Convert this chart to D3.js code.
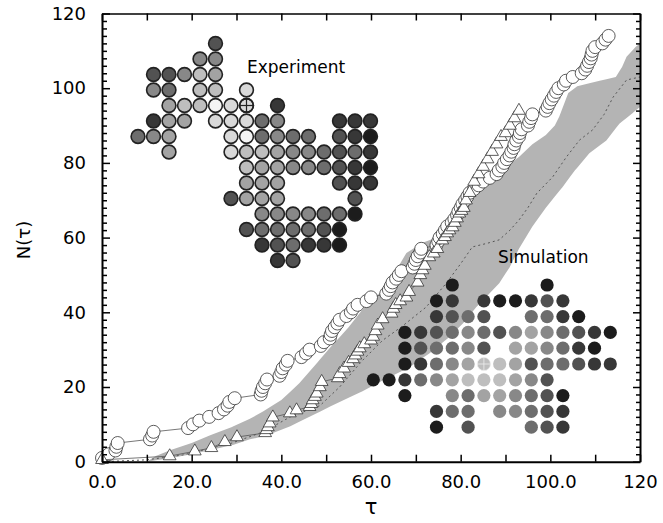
<!DOCTYPE html>
<html>
<head>
<meta charset="utf-8">
<script src="https://cdn.jsdelivr.net/npm/d3@7"></script>
<style>
  body { margin: 0; background: #fff; }
  text { font-family: "DejaVu Sans", sans-serif; }
</style>
</head>
<body>
<svg id="chart"></svg>
<script>
// measured trajectory (circles), tau vs N(tau)
const experiment = [
  [0,1],[1.5,2],[3,3],[3.2,4],[3.5,5],[10.7,6],[11.2,7],[11.5,8],[19.2,9],[20.3,10],
  [21.7,11],[23.9,12],[26,13],[27.2,14],[28,15],[28.4,16],[29.6,17],[35.4,18],[35.6,19],[35.9,20],
  [36.4,21],[36.8,22],[39.6,23],[40,24],[40.3,25],[41,26],[41.4,27],[44.5,28],[45.5,29],[46.3,30],
  [48.8,31],[49.5,32],[50.8,33],[51,34],[51.3,35],[51.9,36],[52.5,37],[53,38],[54.5,39],[55.5,40],
  [56,41],[57,42],[59,43],[60,44],[63.4,45],[64,46],[64.4,47],[64.8,48],[65.6,49],[66.2,50],
  [66.8,51],[69.3,52],[69.7,53],[70,54],[70.4,55],[71,56],[71.2,57],[74.6,58],[75,59],[75.3,60],
  [76,61],[76.5,62],[77,63],[78,64],[78.6,65],[79.2,66],[79.5,67],[80,68],[80.4,69],[81,70],
  [81.5,71],[82,72],[83,73],[84,74],[85,75],[86.5,76],[88,77],[88.5,78],[89.3,79],[89.7,80],
  [90.3,81],[90.9,82],[91.3,83],[91.8,84],[92,85],[92.4,86],[93,87],[93.2,88],[93.6,89],[95,90],
  [95.3,91],[95.7,92],[96,93],[99,94],[99.4,95],[99.8,96],[100.3,97],[100.8,98],[101.3,99],[101.8,100],
  [103,101],[103.5,102],[105,103],[107,104],[107.8,105],[108.2,106],[108.6,107],[109,108],[109.2,109],[109.4,110],
  [110,111],[111.6,112],[112.3,113],[113,114]
]

// second trajectory (triangles)
const triangles = [
  [0,0.5],[15.1,1.5],[20.7,2.8],[24.4,3.7],[27.4,5.3],[30.1,6.6],[36.4,7.7],[36.7,8.5],[37,9.3],[37.4,10.3],
  [38.1,11.9],[41.9,13],[43.4,13.8],[46.3,14.7],[46.7,15.5],[47,16.5],[47.5,17.4],[47.9,18.3],[48.6,20],[49,21.4],
  [52.6,22.4],[53,23.5],[54,25],[55,26.5],[56,27.5],[56.5,28.5],[57,29.5],[57.5,30.4],[58.5,31.5],[60,32.5],
  [60.5,33.5],[61,35],[61.5,36.5],[62.6,38.2],[64.6,39.7],[65,41],[65.5,42],[66.5,43],[67.9,44],[68.5,45.5],
  [70.4,48],[71,50],[71.5,51.3],[72,52.5],[73,54.8],[74,55.8],[74.8,57],[75.9,59.3],[76.5,60.2],[77,61.2],
  [77.5,62],[78.2,62.8],[78.7,64],[79.2,65.2],[79.7,66.5],[80.2,67.2],[80.7,68],[81.2,70],[82,72],[83,75],
  [84,77],[85,79],[86,81],[87,83],[88,85],[89,87],[90,88],[91,90],[92,92],[93,94]
]

// simulation spread (grey band) and its mean (dotted)
const bandUpper = [
  [10,0],[12,1.5],[15,3],[20,5],[24,7],[29,9.3],[33,11.5],[36,13.5],[40,16.5],[44,21],
  [48,26.5],[51,30.7],[55,36],[58,40.6],[62.6,46],[65,50],[67.9,55.9],[71.5,58.6],[74.6,60],[76.8,64],
  [79.7,67.4],[82.6,73.5],[84,75.5],[87,77],[90,79],[93,81.6],[96,85],[99,87.5],[101,90],[102,92.4],
  [104,98.7],[106,100.5],[108.7,101.3],[111,102],[114.6,103],[116,105.7],[117,108.4],[119,111],[120,112]
]
const bandLower = [
  [10,0],[14.5,0.8],[20,2],[25,3.3],[29.2,4.5],[33,6],[36.7,7],[42,9.5],[48.6,13.4],[53,16],
  [57.5,18.5],[63,22],[68.6,25.3],[73,29],[77.5,33.4],[80.5,37],[83.5,41.4],[86,44.5],[88.6,47.8],[90.9,52],
  [93,57],[96,63],[99,68],[102.7,73.5],[105.5,78],[108.7,82.6],[112.5,86],[115.4,90.5],[118.3,93.3],[120,95]
]
const bandMean = [
  [0,0],[10,0.5],[18,1.8],[29,5],[36,8],[42,12],[48.6,15],[53,20],[58,27],[62.6,32.5],
  [67,36.3],[72.3,41.4],[76.8,47.8],[80,53],[82.6,57.5],[86,58.5],[88.6,59.4],[91,62],[93,64.7],[95,68],
  [97,71.9],[100.5,76.2],[103.6,81.6],[106.5,86.1],[109.4,88.8],[112,93],[114,97.6],[117,102.2],[120,103]
]

// inset clusters: [column, row, shade 1 (white) .. 9 (black)], origin site marked separately
const expCells = [
  [5,0,7],
  [4,1,5],[5,1,5],
  [1,2,7],[2,2,7],[3,2,5],[4,2,3],[5,2,4],
  [1,3,5],[2,3,6],[4,3,3],[5,3,3],[7,3,2],
  [2,4,4],[3,4,3],[4,4,3],[5,4,1],[6,4,2],[9,4,8],
  [1,5,8],[2,5,4],[3,5,4],[5,5,2],[6,5,2],[7,5,2],[8,5,6],[9,5,5],[13,5,8],[14,5,8],[15,5,8],
  [0,6,6],[1,6,5],[2,6,4],[6,6,2],[7,6,1],[8,6,6],[9,6,5],[10,6,6],[11,6,6],[13,6,7],[14,6,8],[15,6,9],
  [2,7,4],[6,7,2],[7,7,3],[8,7,3],[9,7,4],[10,7,5],[11,7,5],[12,7,6],[13,7,7],[14,7,6],[15,7,8],
  [7,8,3],[8,8,4],[9,8,4],[10,8,5],[11,8,5],[12,8,6],[13,8,7],[14,8,8],[15,8,9],
  [7,9,4],[8,9,4],[9,9,4],[13,9,7],[14,9,8],[15,9,8],
  [6,10,7],[7,10,4],[8,10,4],[9,10,4],[14,10,7],
  [8,11,5],[9,11,5],[10,11,5],[11,11,5],[12,11,6],[13,11,6],[14,11,9],
  [7,12,7],[8,12,6],[9,12,6],[10,12,6],[11,12,6],[12,12,7],[13,12,9],
  [8,13,8],[9,13,7],[10,13,6],[11,13,8],[12,13,8],[13,13,9],
  [9,14,8],[10,14,7]
]
const expOrigin = [7,4,2]

const simCells = [
  [5,0,9],[11,0,9],
  [4,1,9],[5,1,8],[7,1,8],[8,1,9],[9,1,9],[10,1,8],[11,1,7],[12,1,8],
  [4,2,8],[5,2,7],[6,2,6],[7,2,7],[10,2,6],[11,2,6],[12,2,8],[13,2,9],
  [2,3,9],[3,3,8],[4,3,7],[5,3,6],[6,3,5],[7,3,6],[8,3,7],[9,3,5],[10,3,4],[11,3,5],[12,3,6],[13,3,7],[14,3,8],[15,3,9],
  [2,4,9],[3,4,7],[4,4,6],[5,4,6],[6,4,5],[7,4,7],[9,4,4],[10,4,4],[11,4,5],[12,4,6],[13,4,8],[14,4,9],
  [2,5,9],[3,5,8],[4,5,6],[5,5,5],[6,5,4],[8,5,3],[9,5,4],[10,5,7],[11,5,6],[12,5,6],[13,5,7],[14,5,8],[15,5,8],
  [0,6,9],[1,6,9],[2,6,8],[3,6,6],[4,6,5],[5,6,4],[6,6,3],[7,6,3],[8,6,3],[9,6,4],[10,6,5],[11,6,7],
  [2,7,9],[5,7,5],[6,7,6],[7,7,4],[8,7,4],[9,7,5],[10,7,6],[11,7,7],[12,7,9],
  [4,8,8],[5,8,6],[6,8,6],[8,8,5],[9,8,5],[10,8,6],[11,8,7],[12,8,8],
  [4,9,9],[6,9,7],[10,9,6],[11,9,7],[12,9,8]
]
const simOrigin = [7,5,3]

const xTicks = d3.range(0, 121, 10)
const xTickLabels = {0:"0.0", 20:"20.0", 40:"40.0", 60:"60.0", 80:"80.0", 100:"100.0", 120:"120"}
const yTicks = d3.range(0, 121, 2)
const yTickLabels = {0:"0", 20:"20", 40:"40", 60:"60", 80:"80", 100:"100", 120:"120"}

const width = 663, height = 523
const margin = {top: 13.5, right: 23, bottom: 61.3, left: 102}

const svg = d3.select("#chart")
              .attr("width", width)
              .attr("height", height)

const x = d3.scaleLinear().domain([0, 120]).range([margin.left, width - margin.right])
const y = d3.scaleLinear().domain([0, 120]).range([height - margin.bottom, margin.top])

// grey band
const area = d3.area()
               .x(d => x(d[0]))
               .y0(d => y(d[1]))
               .y1(d => y(d[2]))
// merge upper/lower on a shared tau grid
const bandTau = Array.from(new Set(bandUpper.map(d => d[0]).concat(bandLower.map(d => d[0])))).sort((a, b) => a - b)
const interp = (arr, t) => {
  for (let i = 1; i < arr.length; i++) {
    if (t <= arr[i][0]) {
      const a = arr[i-1], b = arr[i]
      return a[1] + (b[1] - a[1]) * (t - a[0]) / (b[0] - a[0])
    }
  }
  return arr[arr.length-1][1]
}
svg.append("path")
   .datum(bandTau.map(t => [t, interp(bandLower, t), interp(bandUpper, t)]))
   .attr("d", area)
   .attr("fill", "#b4b4b4")

svg.append("path")
   .datum(bandMean)
   .attr("d", d3.line().x(d => x(d[0])).y(d => y(d[1])))
   .attr("fill", "none")
   .attr("stroke", "#555")
   .attr("stroke-width", 1)
   .attr("stroke-dasharray", "2,3")

// experiment circles
const line = d3.line().x(d => x(d[0])).y(d => y(d[1]))
svg.append("path")
   .datum(experiment)
   .attr("d", line)
   .attr("fill", "none")
   .attr("stroke", "#555")
   .attr("stroke-width", 0.8)
svg.append("g").selectAll("circle")
   .data(experiment)
   .join("circle")
   .attr("cx", d => x(d[0]))
   .attr("cy", d => y(d[1]))
   .attr("r", 6.5)
   .attr("fill", "#fff")
   .attr("stroke", "#333")
   .attr("stroke-width", 0.8)

// triangles
svg.append("path")
   .datum(triangles)
   .attr("d", line)
   .attr("fill", "none")
   .attr("stroke", "#555")
   .attr("stroke-width", 0.8)
const tri = d3.symbol(d3.symbolTriangle, 70)
svg.append("g").selectAll("path")
   .data(triangles)
   .join("path")
   .attr("d", tri)
   .attr("transform", d => `translate(${x(d[0])},${y(d[1])})`)
   .attr("fill", "#fff")
   .attr("stroke", "#333")
   .attr("stroke-width", 0.8)

// insets
const shade = d3.scaleLinear().domain([1, 9]).range(["#f4f4f4", "#1c1c1c"])

function cluster(cells, origin, x0, y0, step, r, outlined) {
  const cx = d3.scaleLinear().domain([0, 1]).range([x0, x0 + step])
  const cy = d3.scaleLinear().domain([0, 1]).range([y0, y0 + step])
  const g = svg.append("g")
  g.selectAll("circle")
   .data(cells.concat([origin]))
   .join("circle")
   .attr("cx", d => cx(d[0]))
   .attr("cy", d => cy(d[1]))
   .attr("r", r)
   .attr("fill", d => shade(d[2]))
   .attr("stroke", outlined ? "#222" : "none")
   .attr("stroke-width", 1.6)
  const ox = cx(origin[0]), oy = cy(origin[1])
  const c = outlined ? "#222" : "#eee"
  g.append("circle").attr("cx", ox).attr("cy", oy).attr("r", r)
   .attr("fill", "none").attr("stroke", c).attr("stroke-width", outlined ? 1.6 : 0.8)
  g.append("line").attr("x1", ox - r).attr("x2", ox + r).attr("y1", oy).attr("y2", oy)
   .attr("stroke", c).attr("stroke-width", outlined ? 1.2 : 0.8)
  g.append("line").attr("x1", ox).attr("x2", ox).attr("y1", oy - r).attr("y2", oy + r)
   .attr("stroke", c).attr("stroke-width", outlined ? 1.2 : 0.8)
}
cluster(expCells, expOrigin, 138, 43.5, 15.5, 6.9, true)
cluster(simCells, simOrigin, 373.3, 285, 15.8, 6.6, false)

svg.append("text").attr("x", 247).attr("y", 73).attr("font-size", "17px").text("Experiment")
svg.append("text").attr("x", 498).attr("y", 263).attr("font-size", "17px").text("Simulation")

// axes, ticks pointing inward
function styleAxis(g) {
  g.attr("font-family", null).attr("font-size", null)
  g.select(".domain").attr("stroke-width", 2)
  g.selectAll(".tick line").attr("stroke-width", 1.5)
  g.selectAll(".tick text").attr("font-size", "18px").attr("fill", "#000")
}

svg.append("g")
   .attr("transform", `translate(0,${y(0)})`)
   .call(d3.axisBottom(x).tickValues(xTicks).tickSize(-7).tickSizeOuter(0).tickPadding(14)
           .tickFormat(d => xTickLabels[d] || ""))
   .call(styleAxis)

svg.append("g")
   .attr("transform", `translate(0,${y(120)})`)
   .call(d3.axisTop(x).tickValues(xTicks).tickSize(-7).tickSizeOuter(0).tickFormat(""))
   .call(styleAxis)
   .call(g => g.select(".domain").attr("stroke-width", 1.5))

svg.append("g")
   .attr("transform", `translate(${x(0)},0)`)
   .call(d3.axisLeft(y).tickValues(yTicks).tickSize(-5).tickSizeOuter(0).tickPadding(16)
           .tickFormat(d => yTickLabels[d] || ""))
   .call(styleAxis)
   .call(g => g.selectAll(".tick line").filter(d => d % 20 === 0).attr("x2", 8))

svg.append("g")
   .attr("transform", `translate(${x(120)},0)`)
   .call(d3.axisRight(y).tickValues(yTicks).tickSize(-4).tickSizeOuter(0).tickFormat(""))
   .call(styleAxis)
   .call(g => g.selectAll(".tick line").filter(d => d % 20 === 0).attr("x2", -7))

svg.append("text")
   .attr("transform", "translate(30,240) rotate(-90)")
   .attr("text-anchor", "middle")
   .attr("font-size", "18px")
   .text("N(τ)")

svg.append("text")
   .attr("x", x(60))
   .attr("y", 514)
   .attr("text-anchor", "middle")
   .attr("font-size", "21px")
   .text("τ")
</script>
</body>
</html>
